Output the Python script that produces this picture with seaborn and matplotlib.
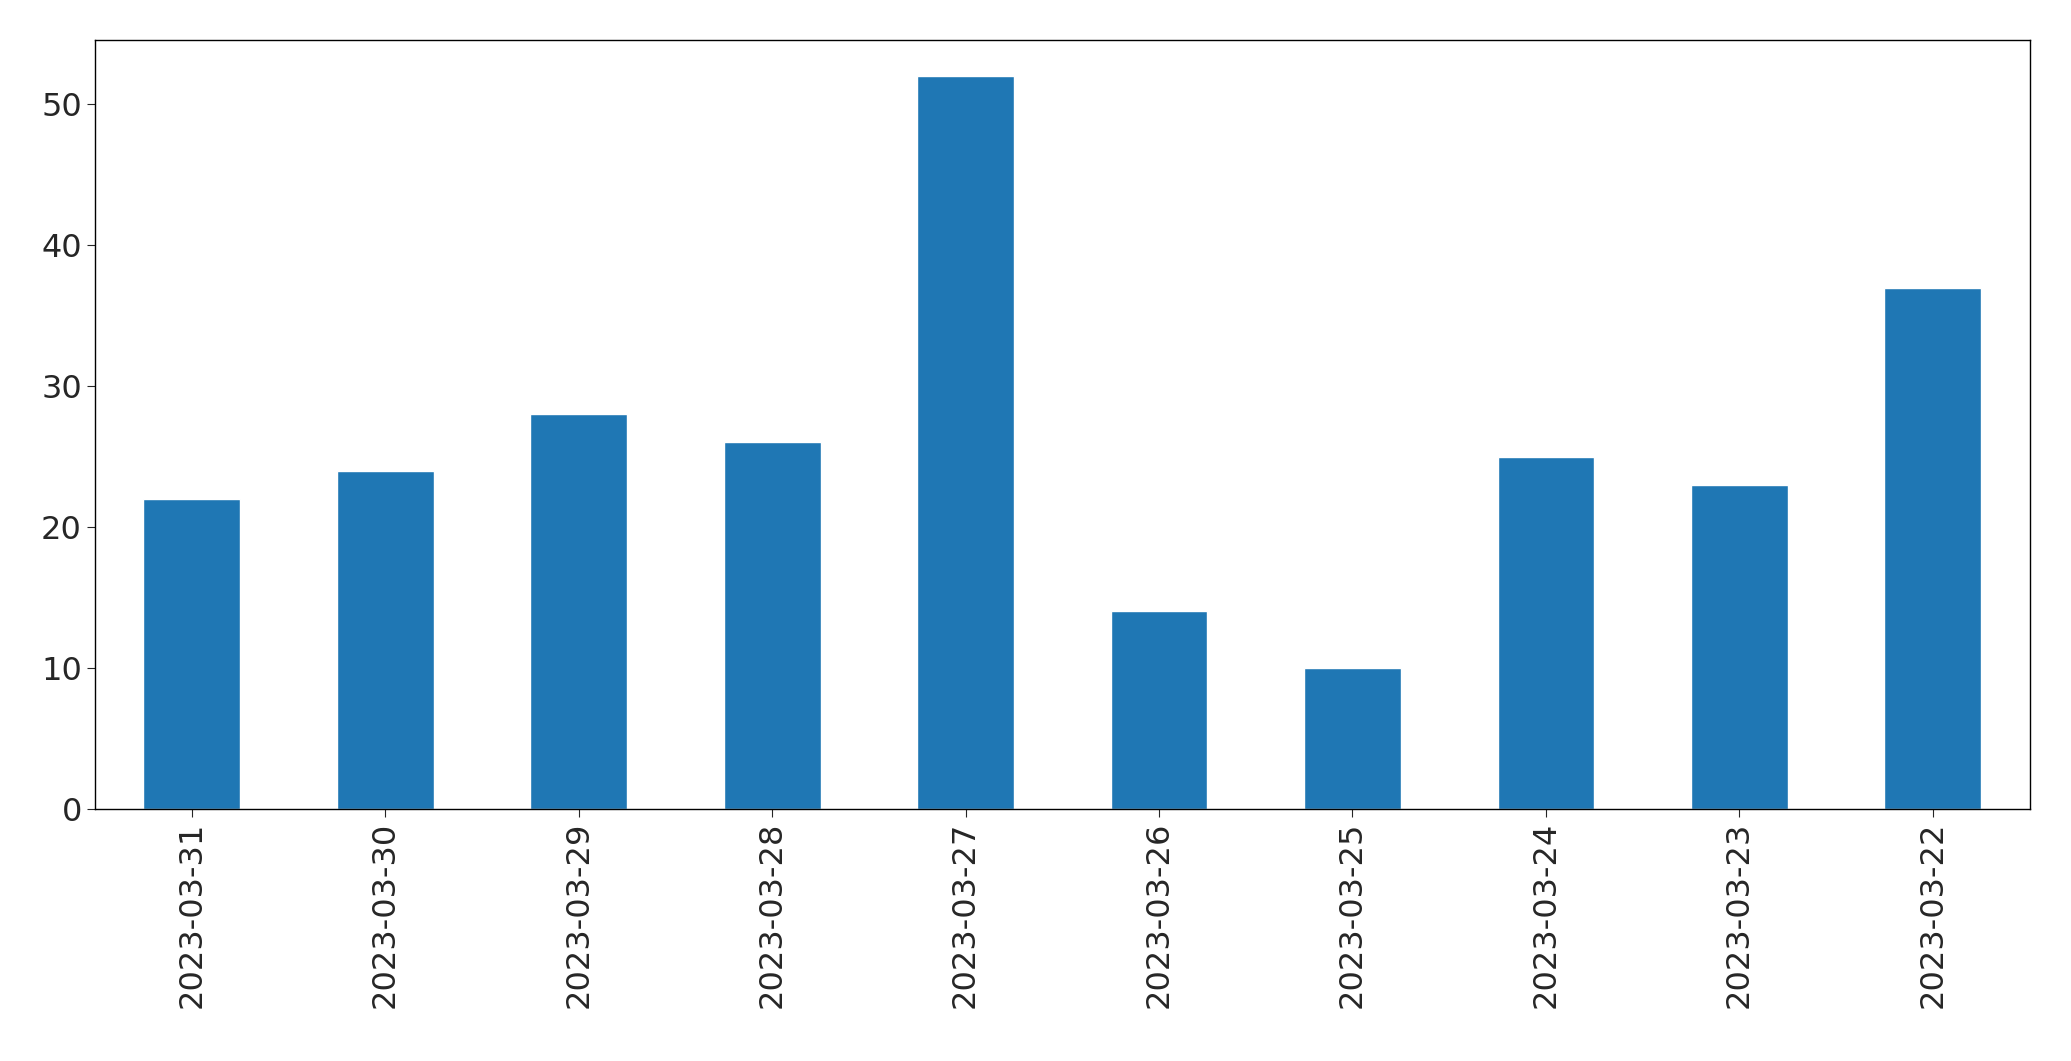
import matplotlib
matplotlib.use("Agg")
import matplotlib.pyplot as plt
import seaborn as sns
import pandas as pd

dates = ["2023-03-31","2023-03-30","2023-03-29","2023-03-28","2023-03-27",
         "2023-03-26","2023-03-25","2023-03-24","2023-03-23","2023-03-22"]
counts = [22,24,28,26,52,14,10,25,23,37]

sns.set_style("white")
plt.rcParams['font.family'] = ['DejaVu Sans']
fig = plt.figure(figsize=(20.71,10.61), dpi=100)
ax = fig.add_axes([0.0459,0.2379,0.9341,0.7247])
df = pd.DataFrame({"date":dates,"count":counts})
sns.barplot(data=df, x="date", y="count", color="#1f77b4", saturation=1, width=0.5, ax=ax)
ax.set_xlabel(""); ax.set_ylabel("")
ax.set_xlim(-0.5, 9.5)
ax.set_ylim(0, 54.6)
ax.tick_params(axis='both', labelsize=23, length=6, left=True, bottom=True)
plt.setp(ax.get_xticklabels(), rotation=90)
for s in ax.spines.values():
    s.set_color("black"); s.set_linewidth(1)
fig.savefig("out.png", dpi=100)
